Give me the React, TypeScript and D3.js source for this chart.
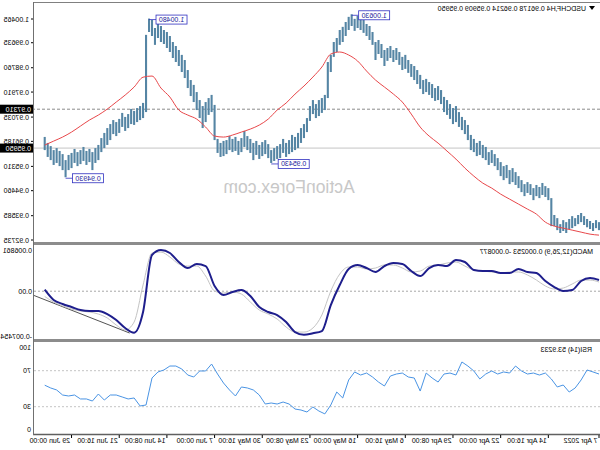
import React from "react";
import * as d3 from "d3";

// USDCHF H4 — price bars sampled every 2 H4 bars from 7 Apr 2022 00:00
const PRICE_HIGH = [
  0.9336,0.9343,0.9333,0.9340,0.9347,0.9357,0.9368,0.9361,0.9350,0.9357,
  0.9347,0.9336,0.9343,0.9329,0.9350,0.9361,0.9420,0.9455,0.9462,0.9473,
  0.9459,0.9466,0.9455,0.9469,0.9476,0.9469,0.9483,0.9497,0.9511,0.9525,
  0.9518,0.9536,0.9532,0.9546,0.9560,0.9574,0.9588,0.9581,0.9599,0.9606,
  0.9620,0.9613,0.9627,0.9641,0.9676,0.9693,0.9704,0.9721,0.9742,0.9735,
  0.9749,0.9763,0.9774,0.9798,0.9812,0.9805,0.9819,0.9826,0.9837,0.9833,
  0.9851,0.9868,0.9882,0.9889,0.9903,0.9921,0.9914,0.9931,0.9945,0.9938,
  0.9952,0.9945,0.9938,0.9959,0.9973,0.9966,1.0001,1.0022,1.0029,1.0043,
  1.0050,1.0057,1.0047,1.0063,1.0054,1.0036,1.0019,1.0008,0.9980,0.9966,
  0.9921,0.9896,0.9781,0.9770,0.9763,0.9749,0.9763,0.9742,0.9700,0.9679,
  0.9665,0.9648,0.9634,0.9641,0.9623,0.9613,0.9627,0.9609,0.9602,0.9595,
  0.9588,0.9609,0.9623,0.9616,0.9606,0.9620,0.9613,0.9627,0.9637,0.9655,
  0.9630,0.9620,0.9634,0.9627,0.9637,0.9623,0.9620,0.9613,0.9627,0.9746,
  0.9781,0.9770,0.9756,0.9742,0.9763,0.9791,0.9816,0.9833,0.9868,0.9903,
  0.9921,0.9938,0.9952,0.9966,0.9987,1.0001,1.0008,1.0022,1.0036,1.0015,
  1.0043,1.0048,0.9991,0.9753,0.9742,0.9735,0.9725,0.9732,0.9714,0.9704,
  0.9718,0.9697,0.9686,0.9693,0.9679,0.9665,0.9648,0.9630,0.9606,0.9595,
  0.9581,0.9592,0.9585,0.9599,0.9588,0.9581,0.9592,0.9578,0.9571,0.9553,
  0.9574,0.9585,0.9595,0.9588,0.9602,0.9613,0.9634,
];
const PRICE_LOW = [
  0.9308,0.9315,0.9305,0.9312,0.9318,0.9326,0.9336,0.9329,0.9322,0.9315,
  0.9312,0.9298,0.9305,0.9298,0.9308,0.9322,0.9322,0.9413,0.9424,0.9431,
  0.9420,0.9427,0.9413,0.9431,0.9438,0.9427,0.9441,0.9455,0.9466,0.9476,
  0.9469,0.9490,0.9483,0.9497,0.9518,0.9532,0.9543,0.9536,0.9553,0.9560,
  0.9571,0.9567,0.9581,0.9588,0.9623,0.9644,0.9658,0.9669,0.9686,0.9679,
  0.9697,0.9711,0.9721,0.9749,0.9763,0.9760,0.9770,0.9781,0.9791,0.9784,
  0.9802,0.9819,0.9833,0.9844,0.9858,0.9872,0.9868,0.9886,0.9903,0.9896,
  0.9910,0.9900,0.9882,0.9910,0.9924,0.9903,0.9956,0.9973,0.9987,0.9998,
  1.0008,1.0015,1.0005,1.0022,1.0008,0.9987,0.9966,0.9956,0.9931,0.9914,
  0.9861,0.9770,0.9728,0.9718,0.9707,0.9700,0.9714,0.9690,0.9651,0.9630,
  0.9613,0.9595,0.9588,0.9581,0.9574,0.9564,0.9578,0.9560,0.9557,0.9550,
  0.9543,0.9560,0.9574,0.9567,0.9557,0.9571,0.9553,0.9578,0.9588,0.9599,
  0.9581,0.9571,0.9585,0.9581,0.9588,0.9574,0.9567,0.9564,0.9578,0.9623,
  0.9721,0.9711,0.9686,0.9665,0.9700,0.9728,0.9756,0.9777,0.9805,0.9840,
  0.9861,0.9882,0.9896,0.9910,0.9931,0.9945,0.9959,0.9966,0.9980,0.9956,
  0.9987,1.0001,0.9721,0.9700,0.9693,0.9686,0.9676,0.9679,0.9665,0.9655,
  0.9669,0.9648,0.9637,0.9644,0.9623,0.9606,0.9595,0.9581,0.9553,0.9543,
  0.9518,0.9546,0.9536,0.9550,0.9539,0.9532,0.9543,0.9525,0.9518,0.9493,
  0.9518,0.9532,0.9543,0.9536,0.9553,0.9564,0.9588,
];
const PRICE_STEP = 2; // H4 bars per sample

// moving average, every 6 bars
const MA = [
  0.92905,0.9294,0.9301,0.9308,0.9315,0.9322,0.9336,0.9364,0.93815,0.9399,
  0.94165,0.9434,0.9455,0.94725,0.9497,0.9525,0.95565,0.95845,0.96125,0.9637,
  0.96685,0.9714,0.9756,0.9784,0.98085,0.9833,0.98645,0.98995,0.99205,0.9931,
  0.9924,0.98785,0.98435,0.9812,0.9784,0.97525,0.9728,0.96965,0.96755,0.96615,
  0.9651,0.96405,0.96335,0.9637,0.96685,0.96965,0.97105,0.9728,0.97735,0.9805,
  0.9847,0.9843,0.98085,0.97805,0.9756,0.97315,0.97105,0.9693,0.9672,0.9651,
  0.96335,0.96195,0.96055,
];
const MA_STEP = 6;

// MACD(12,26,9), every 6 bars
const MACD_MAIN = [
  0.00186,0.00220,0.00170,0.00020,0.00003,0.00070,0.00170,0.00303,0.00320,0.00370,
  0.00303,0.00303,0.00336,0.00336,0.00353,0.00486,0.00519,0.00419,0.00436,0.00386,
  0.00253,0.00336,0.00453,0.00469,0.00419,0.00320,0.00386,0.00436,0.00370,0.00103,
  -0.00230,-0.00663,-0.00700,-0.00725,-0.00680,-0.00513,-0.00396,-0.00346,-0.00263,-0.00080,
  0.00020,-0.00013,-0.00063,0.00087,0.00419,0.00453,0.00386,0.00486,0.00636,0.00686,
  0.00603,-0.00346,-0.00690,-0.00613,-0.00480,-0.00380,-0.00330,-0.00330,-0.00313,-0.00263,
  -0.00213,-0.00146,0.00025,
];
const MACD_SIGNAL = [
  0.00153,0.00186,0.00186,0.00120,0.00053,0.00037,0.00087,0.00186,0.00270,0.00320,
  0.00320,0.00303,0.00320,0.00336,0.00353,0.00419,0.00486,0.00469,0.00436,0.00419,
  0.00336,0.00320,0.00386,0.00436,0.00436,0.00386,0.00370,0.00403,0.00403,0.00286,
  0.00003,-0.00396,-0.00613,-0.00680,-0.00680,-0.00596,-0.00463,-0.00380,-0.00313,-0.00180,
  -0.00047,-0.00013,-0.00030,0.00003,0.00253,0.00419,0.00419,0.00453,0.00569,0.00652,
  0.00636,0.00103,-0.00513,-0.00646,-0.00563,-0.00446,-0.00380,-0.00346,-0.00330,-0.00296,
  -0.00246,-0.00180,-0.00088,
];
const MACD_STEP = 6;
// trend line drawn on the MACD window: [bar, value]
const MACD_TREND_BARS = [315, 380];
const MACD_TREND_VALUES = [-0.00696, -0.00063];

// RSI(14), every 4 bars
const RSI = [
  66.3,68.6,70.8,59.7,50.8,46.3,54.1,51.9,60.8,67.4,
  65.2,67.4,66.3,69.7,75.2,67.4,68.6,66.3,69.7,66.3,
  60.8,69.7,75.2,79.7,65.2,67.4,66.3,57.4,61.9,67.4,
  47.4,61.9,63.0,67.4,66.3,64.1,53.0,57.4,63.0,67.4,
  65.2,68.6,59.7,39.7,46.3,31.9,22.0,25.2,29.7,24.1,
  26.3,27.4,33.0,35.2,33.0,34.1,33.0,43.0,48.6,50.8,
  51.9,41.9,48.6,56.3,66.3,77.4,69.7,69.7,63.0,65.2,
  71.9,75.2,75.2,70.8,68.6,61.9,31.9,30.8,39.7,38.6,
  40.8,43.0,43.0,37.4,44.1,36.3,38.6,38.6,43.0,41.9,
  43.0,48.6,50.8,53.9,
];
const RSI_STEP = 4;

const TIME_LABELS = [
  "7 Apr 2022", "14 Apr 16:00", "22 Apr 00:00", "29 Apr 08:00", "6 May 16:00", "16 May 00:00",
  "23 May 08:00", "30 May 16:00", "7 Jun 00:00", "14 Jun 08:00", "21 Jun 16:00", "29 Jun 00:00",
];
const TIME_LABEL_BARS = [0, 34, 66, 98, 130, 162, 194, 226, 258, 290, 322, 354];

const PRICE_TICKS = [1.00465, 0.99635, 0.9876, 0.9791, 0.97035, 0.96185, 0.9531, 0.9446, 0.93585, 0.92735];
const PRICE_TICK_LABELS = ["1.00465", "0.99635", "0.98760", "0.97910", "0.97035", "0.96185", "0.95310", "0.94460", "0.93585", "0.92735"];

const HLINE_LEVEL = 0.9731;
const HLINE_LABEL = "0.97310";
const BID = 0.9595;
const BID_LABEL = "0.95950";

const HL_BARS = [166, 220, 302, 358];
const HL_VALUES = [1.0063, 0.9543, 1.0048, 0.9493];
const HL_LABELS = ["1.00630", "0.95430", "1.00480", "0.94930"];

const MACD_TICKS = [0.006861, 0, -0.007454];
const MACD_TICK_LABELS = ["0.006861", "0.00", "-0.007454"];
const RSI_TICKS = [100, 70, 30, 0];
const RSI_LEVELS = [70, 30];

const TITLE = "USDCHF,H4  0.96178 0.96214 0.95909 0.95950";
const MACD_TITLE = "MACD(12,26,9) 0.000253 -0.000877";
const RSI_TITLE = "RSI(14) 53.9233";

const FONT = "'Liberation Sans', Arial, sans-serif";
const PLOT_R = 566;

export default function App() {
  const x = d3.scaleLinear().domain([0, 380]).range([1, 1 + 1.49 * 380]);
  const yP = d3.scaleLinear().domain([0.92735, 1.00465]).range([240, 19]);
  const yM = d3.scaleLinear().domain([-0.007454, 0.006861]).range([336, 250]);
  const yR = d3.scaleLinear().domain([0, 100]).range([433.7, 343.7]);

  const maPath = d3.line<number>().x((_, j) => x(j * MA_STEP)).y((d) => yP(d)).curve(d3.curveMonotoneX)(MA) || "";
  const macdPath = d3.line<number>().x((_, j) => x(j * MACD_STEP)).y((d) => yM(d)).curve(d3.curveMonotoneX)(MACD_MAIN) || "";
  const sigPath = d3.line<number>().x((_, j) => x(j * MACD_STEP)).y((d) => yM(d)).curve(d3.curveMonotoneX)(MACD_SIGNAL) || "";
  const rsiPath = d3.line<number>().x((_, j) => x(j * RSI_STEP)).y((d) => yR(d))(RSI) || "";

  const txt = { fontFamily: FONT, fontSize: 7, fill: "#000" } as const;

  return (
    <svg width={600} height={450} style={{ position: "absolute", left: 0, top: 0, background: "#fff" }}>
      <defs>
        <clipPath id="cMain"><rect x={0} y={2} width={PLOT_R} height={240} /></clipPath>
        <clipPath id="cMacd"><rect x={0} y={245} width={PLOT_R} height={94} /></clipPath>
        <clipPath id="cRsi"><rect x={0} y={342} width={PLOT_R} height={92} /></clipPath>
      </defs>
      <rect x={0} y={0} width={600} height={450} fill="#fff" />
      <g transform="translate(600,0) scale(-1,1)">
        {/* watermark */}
        <text x={311} y={193} textAnchor="middle" style={{ fontFamily: FONT, fontSize: 17.5, fill: "#c8c8c8" }}>ActionForex.com</text>

        {/* main pane */}
        <g clipPath="url(#cMain)">
          <line x1={0} x2={PLOT_R} y1={yP(HLINE_LEVEL)} y2={yP(HLINE_LEVEL)} stroke="#8a8a8a" strokeDasharray="3,2" />
          <line x1={0} x2={PLOT_R} y1={yP(BID)} y2={yP(BID)} stroke="#c4c4c4" />
          {PRICE_HIGH.map((h, k) => (
            <line key={k} x1={x(k * PRICE_STEP)} x2={x(k * PRICE_STEP)} y1={yP(h)} y2={yP(PRICE_LOW[k])} stroke="#5585a4" strokeWidth={2.1} />
          ))}
          <path d={maPath} fill="none" stroke="#e8474a" strokeWidth={1} />
          {HL_BARS.map((b, i) => {
            const bx = x(b);
            const cy = yP(HL_VALUES[i]) + 1;
            return (
              <g key={i}>
                <line x1={bx} x2={bx - 7} y1={cy} y2={cy} stroke="#3030c0" strokeWidth={0.8} />
                <rect x={bx - 38} y={cy - 4.5} width={31} height={9} fill="#fff" stroke="#3030c0" strokeWidth={0.8} />
                <text x={bx - 22.5} y={cy + 2.5} textAnchor="middle" style={{ ...txt, fill: "#1a1a9a" }}>{HL_LABELS[i]}</text>
              </g>
            );
          })}
        </g>
        <path d="M5,6 L11,6 L8,10 Z" fill="#000" />
        <text x={14} y={10.5} style={txt}>{TITLE}</text>

        {/* price axis */}
        {PRICE_TICKS.map((v, i) => (
          <g key={i}>
            <line x1={PLOT_R} x2={PLOT_R + 3} y1={yP(v)} y2={yP(v)} stroke="#000" />
            <text x={571} y={yP(v) + 2.5} style={txt}>{PRICE_TICK_LABELS[i]}</text>
          </g>
        ))}
        <rect x={567} y={yP(HLINE_LEVEL) - 4.5} width={33} height={9} fill="#000" />
        <text x={569} y={yP(HLINE_LEVEL) + 2.5} style={{ ...txt, fill: "#fff" }}>{HLINE_LABEL}</text>
        <rect x={567} y={yP(BID) - 4.5} width={33} height={9} fill="#000" />
        <text x={569} y={yP(BID) + 2.5} style={{ ...txt, fill: "#fff" }}>{BID_LABEL}</text>

        {/* MACD pane */}
        <g clipPath="url(#cMacd)">
          <line x1={0} x2={PLOT_R} y1={yM(0)} y2={yM(0)} stroke="#a8a8a8" strokeDasharray="2,2" />
          <line x1={x(MACD_TREND_BARS[0])} x2={x(MACD_TREND_BARS[1])} y1={yM(MACD_TREND_VALUES[0])} y2={yM(MACD_TREND_VALUES[1])} stroke="#404040" strokeWidth={0.9} />
          <path d={sigPath} fill="none" stroke="#c4c4c4" strokeWidth={1} />
          <path d={macdPath} fill="none" stroke="#1e1e8c" strokeWidth={2} />
        </g>
        <text x={7} y={254} style={txt}>{MACD_TITLE}</text>
        {MACD_TICKS.map((v, i) => (
          <text key={i} x={568} y={yM(v) + 2.5} style={txt}>{MACD_TICK_LABELS[i]}</text>
        ))}

        {/* RSI pane */}
        <g clipPath="url(#cRsi)">
          {RSI_LEVELS.map((l) => (
            <line key={l} x1={0} x2={PLOT_R} y1={yR(l)} y2={yR(l)} stroke="#c4c4c4" strokeDasharray="2,2" />
          ))}
          <path d={rsiPath} fill="none" stroke="#4a94e4" strokeWidth={1} />
        </g>
        <text x={8} y={351.5} style={txt}>{RSI_TITLE}</text>
        {RSI_TICKS.map((v, i) => (
          <text key={i} x={569} y={Math.min(Math.max(yR(v), 347), 429) + 2.5} style={txt}>{v}</text>
        ))}

        {/* frames */}
        <line x1={0} x2={PLOT_R} y1={2.5} y2={2.5} stroke="#808080" />
        <rect x={0} y={242} width={PLOT_R + 1} height={3} fill="#8c8c8c" />
        <rect x={0} y={339} width={PLOT_R + 1} height={3} fill="#8c8c8c" />
        <line x1={0} x2={PLOT_R + 1} y1={434.5} y2={434.5} stroke="#606060" strokeWidth={1.5} />
        <line x1={PLOT_R + 0.5} x2={PLOT_R + 0.5} y1={2} y2={435} stroke="#707070" />

        {/* time axis */}
        {TIME_LABEL_BARS.map((b, i) => (
          <g key={i}>
            <line x1={x(b)} x2={x(b)} y1={435} y2={438} stroke="#000" />
            <text x={x(b) + 1.5} y={442.5} style={txt}>{TIME_LABELS[i]}</text>
          </g>
        ))}
      </g>
    </svg>
  );
}
